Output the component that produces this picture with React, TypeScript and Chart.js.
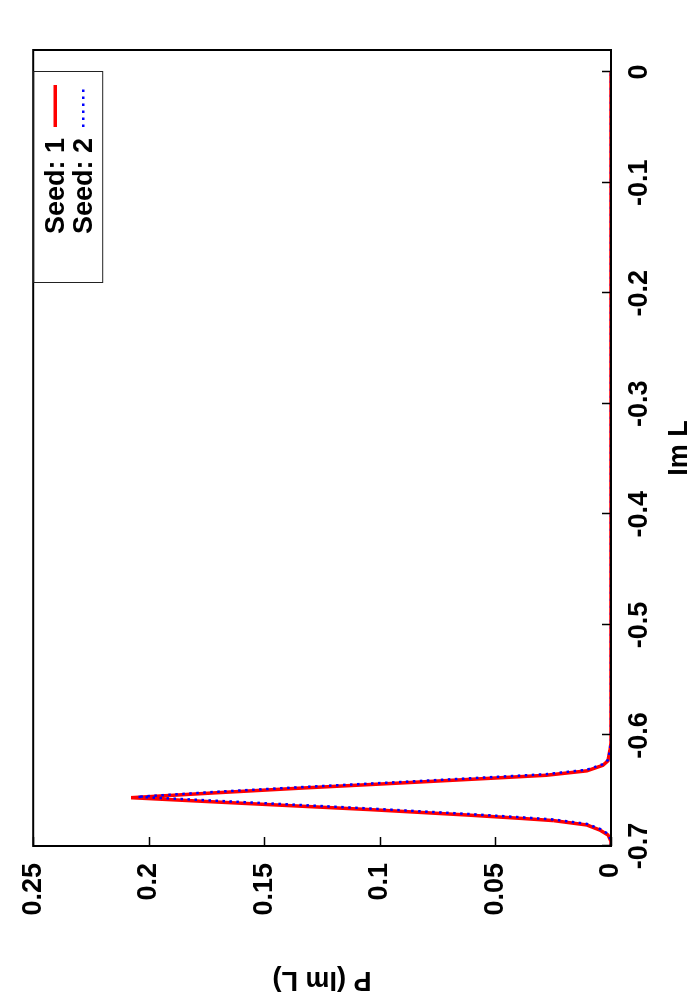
import React, { useEffect, useRef } from "react";
import { Chart, registerables } from "chart.js";

Chart.register(...registerables);

// ---- data ----
const IM_L_TICKS = [-0.7, -0.6, -0.5, -0.4, -0.3, -0.2, -0.1, 0];
const P_TICKS = [0, 0.05, 0.1, 0.15, 0.2, 0.25];
const X_TITLE = "Im L";
const Y_TITLE = "P (Im L)";
const SERIES_LABELS = ["Seed: 1", "Seed: 2"];

const seed1ImL = [-0.7, -0.696, -0.69, -0.6856, -0.681, -0.677, -0.675, -0.672, -0.667, -0.661, -0.6563, -0.652, -0.6475, -0.643, -0.6385, -0.636, -0.632, -0.627, -0.623, -0.613, -0.607, 0.0];
const seed1P = [0, 0, 0.0013, 0.0048, 0.0104, 0.025, 0.039, 0.062, 0.105, 0.163, 0.2076, 0.172, 0.133, 0.091, 0.05, 0.028, 0.0104, 0.0035, 0.0013, 0.0004, 0, 0];

const seed2ImL = [-0.7, -0.695, -0.689, -0.6845, -0.68, -0.676, -0.674, -0.671, -0.666, -0.66, -0.6555, -0.651, -0.6465, -0.642, -0.6375, -0.635, -0.631, -0.626, -0.622, -0.612, -0.606, 0.0];
const seed2P = [0, 0, 0.0013, 0.0048, 0.0104, 0.025, 0.039, 0.062, 0.105, 0.162, 0.205, 0.171, 0.132, 0.09, 0.05, 0.028, 0.0104, 0.0035, 0.0013, 0.0004, 0, 0];

const FONT_FAMILY = '"Liberation Sans", Arial, Helvetica, sans-serif';

const fmt = (v: number) => String(Number(Number(v).toFixed(2)));

const framePlugin = {
  id: "gnuFrame",
  afterDatasetsDraw(chart: any) {
    const { ctx, chartArea, scales } = chart;
    const { left, right, top, bottom } = chartArea;
    const xs = scales.x;
    const ys = scales.y;
    ctx.save();
    ctx.strokeStyle = "#000";
    ctx.lineWidth = 1.5;
    ctx.beginPath();
    IM_L_TICKS.forEach((v) => {
      const px = Math.round(xs.getPixelForValue(v)) + 0.5;
      ctx.moveTo(px, bottom);
      ctx.lineTo(px, bottom - 9);
    });
    P_TICKS.forEach((v) => {
      const py = Math.round(ys.getPixelForValue(v)) + 0.5;
      ctx.moveTo(left, py);
      ctx.lineTo(left + 9, py);
    });
    ctx.stroke();

    ctx.lineWidth = 2;
    ctx.strokeRect(left, top, right - left, bottom - top);

    // key box (top right)
    const boxRight = right - 22;
    const boxLeft = boxRight - 211;
    const boxTop = top;
    const boxBottom = top + 69;
    ctx.lineWidth = 1;
    ctx.strokeStyle = "#222";
    ctx.strokeRect(boxLeft + 0.5, boxTop + 0.5, boxRight - boxLeft, boxBottom - boxTop);

    ctx.font = `bold 27px ${FONT_FAMILY}`;
    ctx.fillStyle = "#000";
    ctx.textAlign = "right";
    ctx.textBaseline = "middle";
    const rows = [top + 22, top + 50];
    chart.data.datasets.forEach((ds: any, i: number) => {
      const cy = rows[i];
      ctx.fillText(SERIES_LABELS[i], boxRight - 66, cy + 1);
      ctx.save();
      ctx.strokeStyle = ds.borderColor;
      ctx.lineWidth = ds.borderWidth;
      ctx.setLineDash(ds.borderDash || []);
      ctx.beginPath();
      ctx.moveTo(boxRight - 55, cy);
      ctx.lineTo(boxRight - 13, cy);
      ctx.stroke();
      ctx.restore();
    });
    ctx.restore();
  },
};

export default function App() {
  const ref = useRef<HTMLCanvasElement | null>(null);

  useEffect(() => {
    if (!ref.current) return;
    const font = { family: FONT_FAMILY, size: 27, weight: "bold" as const };
    const chart = new Chart(ref.current, {
      type: "line",
      data: {
        datasets: [
          {
            label: SERIES_LABELS[0],
            data: seed1ImL.map((x, i) => ({ x, y: seed1P[i] })),
            borderColor: "#ff0000",
            borderWidth: 3.5,
            pointRadius: 0,
            tension: 0,
            order: 1,
          },
          {
            label: SERIES_LABELS[1],
            data: seed2ImL.map((x, i) => ({ x, y: seed2P[i] })),
            borderColor: "#0000ff",
            borderWidth: 2.5,
            borderDash: [2.5, 4.5],
            borderCapStyle: "butt",
            pointRadius: 0,
            tension: 0,
            order: 0,
          },
        ],
      },
      options: {
        responsive: false,
        animation: false,
        devicePixelRatio: 1,
        layout: { padding: { top: 33, right: 50, left: 0, bottom: 0 } },
        plugins: { legend: { display: false }, tooltip: { enabled: false } },
        scales: {
          x: {
            type: "linear",
            min: -0.7,
            max: 0.02,
            afterBuildTicks: (s: any) => {
              s.ticks = IM_L_TICKS.map((v) => ({ value: v }));
            },
            afterFit: (s: any) => {
              s.height = 89;
            },
            grid: { display: false, drawTicks: false },
            border: { display: false },
            ticks: {
              padding: 12,
              color: "#000",
              font,
              maxRotation: 0,
              autoSkip: false,
              callback: (v: any) => fmt(v),
            },
            title: { display: true, text: X_TITLE, color: "#000", font, padding: { top: 0, bottom: 4 } },
          },
          y: {
            type: "linear",
            min: 0,
            max: 0.25,
            afterBuildTicks: (s: any) => {
              s.ticks = P_TICKS.map((v) => ({ value: v }));
            },
            afterFit: (s: any) => {
              s.width = 154;
            },
            grid: { display: false, drawTicks: false },
            border: { display: false },
            ticks: {
              padding: 17,
              color: "#000",
              font,
              autoSkip: false,
              callback: (v: any) => fmt(v),
            },
            title: { display: true, text: Y_TITLE, color: "#000", font, padding: { top: 4, bottom: 0 } },
          },
        },
      } as any,
      plugins: [framePlugin],
    });
    return () => chart.destroy();
  }, []);

  return (
    <div style={{ position: "fixed", left: 0, top: 0, width: 700, height: 1000, overflow: "hidden", background: "#fff" }}>
      <div
        style={{
          position: "absolute",
          left: 0,
          top: 0,
          width: 1000,
          height: 700,
          transformOrigin: "0 0",
          transform: "translate(0px, 1000px) rotate(-90deg)",
        }}
      >
        <canvas ref={ref} width={1000} height={700} style={{ display: "block", width: 1000, height: 700 }} />
      </div>
    </div>
  );
}
